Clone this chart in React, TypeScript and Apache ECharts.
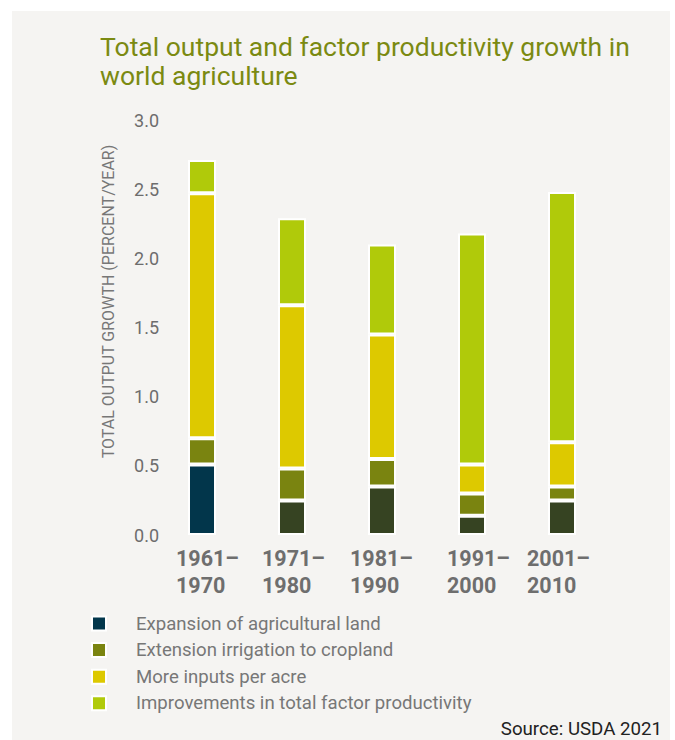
import React, { useEffect, useRef } from "react";
import * as echarts from "echarts";

const TITLE = "Total output and factor productivity growth in\nworld agriculture";
const SOURCE = "Source: USDA 2021";
const Y_NAME = "TOTAL OUTPUT GROWTH (PERCENT/YEAR)";

const categories = ["1961–1970", "1971–1980", "1981–1990", "1991–2000", "2001–2010"];
const seriesNames = [
  "Expansion of agricultural land",
  "Extension irrigation to cropland",
  "More inputs per acre",
  "Improvements in total factor productivity",
];
const landExpansion = [0.51, 0.25, 0.35, 0.14, 0.25];
const irrigation = [0.19, 0.23, 0.2, 0.16, 0.1];
const moreInputs = [1.77, 1.18, 0.9, 0.21, 0.32];
const tfp = [0.24, 0.63, 0.65, 1.67, 1.81];
const yTicks = { min: 0, max: 3, interval: 0.5 };

const COLORS = ["#02364b", "#7a8410", "#ddc900", "#b0ca0a"];
const LAND_LATER_COLOR = "#364322";
const LABEL_BOX_WIDTHS = [52, 60, 64, 50, 70];

export default function App() {
  const ref = useRef<HTMLDivElement>(null);
  useEffect(() => {
    if (!ref.current) return;
    const chart = echarts.init(ref.current, null, { renderer: "svg" });
    const font = "Roboto";
    const rich: Record<string, any> = {};
    LABEL_BOX_WIDTHS.forEach((w, i) => {
      rich["l" + i] = {
        width: w,
        align: "left",
        fontSize: 21.5,
        fontWeight: "bold",
        color: "#6e6e6e",
        lineHeight: 27,
        fontFamily: font,
      };
    });
    const values = [landExpansion, irrigation, moreInputs, tfp];
    const series = seriesNames.map((name, si) => ({
      name,
      type: "bar",
      stack: "total",
      barWidth: 28,
      itemStyle: { color: COLORS[si], borderColor: "#ffffff", borderWidth: 2 },
      data: values[si].map((v, i) =>
        si === 0 && i > 0 ? { value: v, itemStyle: { color: LAND_LATER_COLOR } } : v
      ),
    }));
    chart.setOption({
      animation: false,
      backgroundColor: "transparent",
      textStyle: { fontFamily: font },
      title: {
        text: TITLE,
        left: 95,
        top: 27,
        textStyle: {
          fontSize: 26.5,
          fontWeight: "normal",
          color: "#7b8a12",
          lineHeight: 29,
          fontFamily: font,
        },
      },
      grid: { left: 157, right: 68, top: 120, bottom: 205, containLabel: false },
      xAxis: {
        type: "category",
        data: categories,
        axisLine: { show: false },
        axisTick: { show: false },
        axisLabel: {
          interval: 0,
          margin: 10,
          formatter: (value: string, index: number) => {
            const [a, b] = value.split("–");
            return `{l${index}|${a}–}\n{l${index}|${b}}`;
          },
          rich,
        },
      },
      yAxis: {
        type: "value",
        min: yTicks.min,
        max: yTicks.max,
        interval: yTicks.interval,
        name: Y_NAME,
        nameLocation: "middle",
        nameGap: 41,
        nameTextStyle: {
          fontSize: 16,
          color: "#777777",
          fontFamily: font,
          padding: [0, 0, 0, 52],
        },
        axisLine: { show: false },
        axisTick: { show: false },
        splitLine: { show: false },
        axisLabel: {
          margin: -2,
          fontSize: 18,
          color: "#6d6d6d",
          fontFamily: font,
          formatter: (v: number) => v.toFixed(1),
        },
      },
      legend: {
        orient: "vertical",
        left: 86,
        top: 609,
        itemWidth: 14,
        itemHeight: 14,
        itemGap: 7.6,
        icon: "rect",
        data: seriesNames,
        textStyle: {
          color: "#777777",
          fontSize: 18.6,
          fontFamily: font,
          padding: [0, 0, 0, 25],
        },
      },
      graphic: [
        {
          type: "text",
          right: 13,
          top: 719,
          style: { text: SOURCE, font: `18.7px ${font}`, fill: "#222222" },
        },
      ],
      series,
    });
    return () => chart.dispose();
  }, []);
  return (
    <div style={{ position: "fixed", left: 0, top: 0, width: 675, height: 740, background: "#ffffff" }}>
      <div style={{ position: "absolute", left: 12, top: 11, width: 658, height: 729, background: "#f5f4f2" }} />
      <div ref={ref} style={{ position: "absolute", left: 0, top: 0, width: 675, height: 740 }} />
    </div>
  );
}
